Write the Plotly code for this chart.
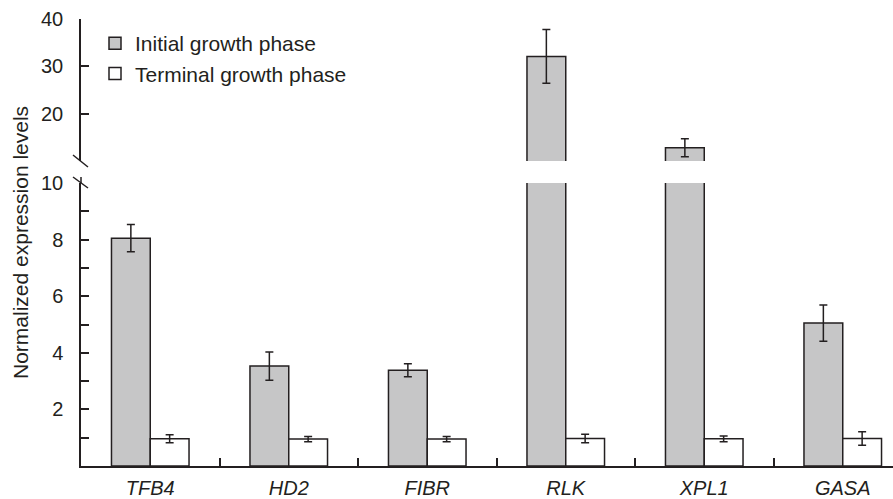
import plotly.graph_objects as go

genes = ["TFB4", "HD2", "FIBR", "RLK", "XPL1", "GASA"]
initial = [8.05, 3.53, 3.38, 32.1, 12.8, 5.05]
initial_err = [0.48, 0.5, 0.23, 5.7, 1.9, 0.64]
terminal = [0.96, 0.95, 0.95, 0.97, 0.96, 0.97]
terminal_err = [0.14, 0.09, 0.09, 0.15, 0.1, 0.24]
series_names = ["Initial growth phase", "Terminal growth phase"]

low_ticks = [1, 2, 3, 4, 5, 6, 7, 8, 9, 10]
low_labels = ["", "2", "", "4", "", "6", "", "8", "", "10"]
up_ticks = [10, 20, 30, 40]
up_labels = ["", "20", "30", "40"]

INK = "#231f20"
GREY = "#c6c6c7"
FONT = "Liberation Sans, Arial, Helvetica, sans-serif"

W, H = 893, 499
L, R, T, B = 81, 0, 19, 33
pw, ph = W - L - R, H - T - B


def py(p):
    return (H - B - p) / ph


def px(p):
    return (p - L) / pw


low_dom = [0, py(183)]
up_dom = [py(161), 1]

fig = go.Figure()
for yref, show in (("y", True), ("y2", False)):
    fig.add_trace(go.Bar(
        x=genes, y=initial, name=series_names[0], yaxis=yref, showlegend=show,
        marker=dict(color=GREY, line=dict(color=INK, width=1.5)),
        error_y=dict(type="data", array=initial_err, color=INK, thickness=1.5, width=4),
        legendgroup="a",
    ))
    fig.add_trace(go.Bar(
        x=genes, y=terminal, name=series_names[1], yaxis=yref, showlegend=show,
        marker=dict(color="white", line=dict(color=INK, width=1.5)),
        error_y=dict(type="data", array=terminal_err, color=INK, thickness=1.5, width=4),
        legendgroup="b",
    ))

axis_common = dict(
    showline=True, linecolor=INK, linewidth=1.5, ticks="inside", ticklen=8,
    tickwidth=1.5, tickcolor=INK, showgrid=False, zeroline=False,
    tickfont=dict(family=FONT, size=20, color=INK), ticklabelstandoff=12,
)

fig.update_layout(
    width=W, height=H,
    margin=dict(l=L, r=R, t=T, b=B, autoexpand=False),
    paper_bgcolor="white", plot_bgcolor="white",
    barmode="group", bargap=0.44, bargroupgap=0,
    font=dict(family=FONT, color=INK),
    xaxis=dict(
        range=[-0.5, -0.5 + pw / 138.5], showline=True, linecolor=INK, linewidth=1.5,
        ticks="inside", tickson="boundaries", ticklen=8, tickwidth=1.5, tickcolor=INK,
        showgrid=False, zeroline=False, anchor="y",
        tickfont=dict(family=FONT, size=20, color=INK, style="italic"),
        ticklabelstandoff=3,
    ),
    yaxis=dict(domain=low_dom, range=[0, 10], tickvals=low_ticks, ticktext=low_labels,
               anchor="x", **axis_common),
    yaxis2=dict(domain=up_dom, range=[10, 40], tickvals=up_ticks, ticktext=up_labels,
                anchor="x", **axis_common),
    legend=dict(
        x=px(95), y=py(23), xanchor="left", yanchor="top",
        font=dict(family=FONT, size=21, color=INK),
        bgcolor="rgba(0,0,0,0)", traceorder="normal", tracegroupgap=5,
        itemwidth=30,
    ),
    showlegend=True,
)

line_style = dict(color=INK, width=1.5)
fig.add_shape(type="line", xref="paper", yref="paper", x0=0, x1=0,
              y0=py(183), y1=py(177), line=line_style)
fig.add_shape(type="line", xref="paper", yref="paper", x0=px(73), x1=px(88),
              y0=py(155), y1=py(167), line=line_style)
fig.add_shape(type="line", xref="paper", yref="paper", x0=px(73), x1=px(88),
              y0=py(177), y1=py(188), line=line_style)

fig.add_annotation(
    text="Normalized expression levels", xref="paper", yref="paper",
    x=px(20), y=py(243), xanchor="center", yanchor="middle", textangle=-90,
    showarrow=False, font=dict(family=FONT, size=21, color=INK),
)

fig.write_html("out.html", post_script="document.body.style.margin='0';",
               config={"displayModeBar": False})
